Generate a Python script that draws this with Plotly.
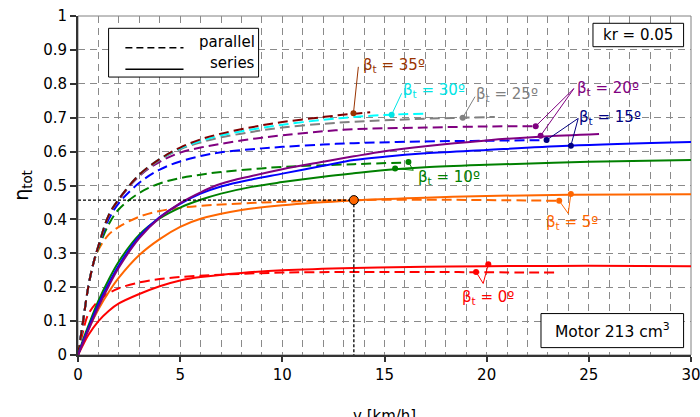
import plotly.graph_objects as go

# ---------------- data ----------------
# parallel (dashed) curves
v_par_0 = [0, 0.25, 0.5, 1, 1.5, 2, 3, 4, 5, 7, 10, 13.5, 17, 20, 23.3]
eta_par_0 = [0, 0.07, 0.12, 0.16, 0.182, 0.197, 0.214, 0.224, 0.23, 0.237, 0.243, 0.245, 0.245, 0.244, 0.243]

v_par_5 = [0, 0.25, 0.5, 0.75, 1, 1.5, 2, 3, 4, 5, 6, 8, 10, 13.5, 17, 20, 23.5]
eta_par_5 = [0, 0.1, 0.2, 0.27, 0.31, 0.355, 0.378, 0.408, 0.425, 0.434, 0.44, 0.447, 0.452, 0.457, 0.458, 0.457, 0.455]

v_par_10 = [0, 0.25, 0.5, 0.75, 1, 1.5, 2, 3, 4, 5, 6, 7, 8.5, 10, 13.5, 16.2]
eta_par_10 = [0, 0.1, 0.2, 0.27, 0.315, 0.385, 0.43, 0.478, 0.506, 0.522, 0.532, 0.54, 0.548, 0.555, 0.563, 0.568]

v_par_15 = [0, 0.25, 0.5, 0.75, 1, 1.5, 2, 3, 4, 5, 6, 7, 8.5, 10, 12, 13.5, 17, 20, 22.9]
eta_par_15 = [0, 0.1, 0.2, 0.27, 0.32, 0.4, 0.448, 0.508, 0.547, 0.571, 0.587, 0.598, 0.607, 0.614, 0.621, 0.625, 0.63, 0.632, 0.634]

v_par_20 = [0, 0.25, 0.5, 0.75, 1, 1.5, 2, 3, 4, 5, 6, 7, 8.5, 10, 12, 13.5, 17, 20, 22.4]
eta_par_20 = [0, 0.1, 0.2, 0.27, 0.322, 0.41, 0.458, 0.528, 0.57, 0.597, 0.612, 0.623, 0.637, 0.648, 0.66, 0.666, 0.671, 0.674, 0.675]

v_par_25 = [0, 0.25, 0.5, 0.75, 1, 1.5, 2, 3, 4, 5, 6, 7, 8.5, 10, 12, 13.5, 17, 18.8, 20.4]
eta_par_25 = [0, 0.1, 0.2, 0.27, 0.322, 0.412, 0.46, 0.53, 0.575, 0.607, 0.627, 0.642, 0.658, 0.671, 0.682, 0.688, 0.697, 0.7, 0.702]

v_par_30 = [0, 0.25, 0.5, 0.75, 1, 1.5, 2, 3, 4, 5, 6, 7, 8.5, 10, 12, 13.5, 15.35, 17]
eta_par_30 = [0, 0.1, 0.2, 0.27, 0.322, 0.412, 0.46, 0.532, 0.578, 0.61, 0.631, 0.648, 0.665, 0.679, 0.694, 0.702, 0.709, 0.712]

v_par_35 = [0, 0.25, 0.5, 0.75, 1, 1.5, 2, 3, 4, 5, 6, 7, 8.5, 10, 12, 13.5, 14.3]
eta_par_35 = [0, 0.1, 0.2, 0.27, 0.322, 0.412, 0.46, 0.532, 0.578, 0.612, 0.636, 0.653, 0.672, 0.687, 0.702, 0.712, 0.716]

# series (solid) curves
v_ser_0 = [0, 0.25, 0.5, 1, 1.5, 2, 3, 4, 5, 6, 8, 10, 13.5, 17, 20, 25, 30]
eta_ser_0 = [0, 0.03, 0.058, 0.1, 0.13, 0.152, 0.18, 0.203, 0.22, 0.23, 0.242, 0.25, 0.257, 0.26, 0.262, 0.263, 0.262]

v_ser_5 = [0, 0.25, 0.5, 1, 1.5, 2, 3, 4, 5, 6, 8, 10, 13.5, 17, 20, 24, 30]
eta_ser_5 = [0, 0.04, 0.075, 0.135, 0.185, 0.228, 0.295, 0.342, 0.378, 0.402, 0.428, 0.442, 0.456, 0.464, 0.469, 0.473, 0.474]

v_ser_10 = [0, 0.25, 0.5, 1, 1.5, 2, 3, 4, 5, 6, 7, 8.5, 10, 12, 13.5, 15.5, 17, 20, 25, 30]
eta_ser_10 = [0, 0.045, 0.085, 0.16, 0.222, 0.276, 0.355, 0.403, 0.435, 0.458, 0.476, 0.496, 0.51, 0.526, 0.536, 0.548, 0.554, 0.561, 0.57, 0.575]

v_ser_15 = [0, 0.25, 0.5, 1, 1.5, 2, 3, 4, 5, 6, 7, 8.5, 10, 12, 13.5, 15, 17, 20, 24, 30]
eta_ser_15 = [0, 0.04, 0.078, 0.15, 0.21, 0.265, 0.35, 0.407, 0.446, 0.476, 0.497, 0.518, 0.535, 0.558, 0.575, 0.585, 0.595, 0.605, 0.617, 0.628]

v_ser_20 = [0, 0.25, 0.5, 1, 1.5, 2, 3, 4, 5, 6, 7, 8.5, 10, 12, 13.5, 15, 17, 20, 22.6, 25.5]
eta_ser_20 = [0, 0.036, 0.072, 0.142, 0.203, 0.258, 0.345, 0.405, 0.448, 0.48, 0.505, 0.528, 0.548, 0.57, 0.586, 0.601, 0.616, 0.633, 0.644, 0.652]

# operating point marked with dotted guides
op_v = 13.5
op_eta = 0.457

# tick values
x_ticks = [0, 5, 10, 15, 20, 25, 30]
y_ticks = [0, 0.1, 0.2, 0.3, 0.4, 0.5, 0.6, 0.7, 0.8, 0.9, 1]

# ---------------- styling ----------------
FONT = "DejaVu Sans"
C = {0: "#FF0000", 5: "#FF6600", 10: "#008000", 15: "#0000FF",
     20: "#800080", 25: "#808080", 30: "#00FFFF", 35: "#800000"}
LABEL_C = {0: "#FF0000", 5: "#FF6600", 10: "#008000", 15: "#000080",
           20: "#800080", 25: "#808080", 30: "#00E5E5", 35: "#993300"}

parallel = [(0, v_par_0, eta_par_0), (5, v_par_5, eta_par_5), (10, v_par_10, eta_par_10),
            (15, v_par_15, eta_par_15), (20, v_par_20, eta_par_20), (25, v_par_25, eta_par_25),
            (30, v_par_30, eta_par_30), (35, v_par_35, eta_par_35)]
series = [(0, v_ser_0, eta_ser_0), (5, v_ser_5, eta_ser_5), (10, v_ser_10, eta_ser_10),
          (15, v_ser_15, eta_ser_15), (20, v_ser_20, eta_ser_20)]

fig = go.Figure()

for b, v, e in parallel:
    fig.add_trace(go.Scatter(x=v, y=e, mode="lines", line_shape="spline",
                             line=dict(color=C[b], width=2, dash="10px,5px"),
                             hoverinfo="skip"))
for b, v, e in series:
    fig.add_trace(go.Scatter(x=v, y=e, mode="lines", line_shape="spline",
                             line=dict(color=C[b], width=2), hoverinfo="skip"))

# dotted guides to the operating point
fig.add_trace(go.Scatter(x=[0, op_v, op_v], y=[op_eta, op_eta, 0], mode="lines",
                         line=dict(color="black", width=1.3, dash="3px,2px"), hoverinfo="skip"))
fig.add_trace(go.Scatter(x=[op_v], y=[op_eta], mode="markers",
                         marker=dict(color="#FF6600", size=9, line=dict(color="black", width=1)),
                         hoverinfo="skip"))

# ---------------- curve labels with leader lines ----------------
labels = [
    dict(b=0, pos=(20.06, 0.17), hub=(19.83, 0.211), dots=[(19.48, 0.245), (20.08, 0.268)]),
    dict(b=5, pos=(24.17, 0.392), hub=(23.99, 0.4175), dots=[(23.55, 0.455), (24.12, 0.475)]),
    dict(b=10, pos=(18.16, 0.525), hub=(16.41, 0.545), dots=[(16.17, 0.569), (15.52, 0.55)]),
    dict(b=15, pos=(26.03, 0.702), hub=(24.48, 0.698), dots=[(22.93, 0.634), (24.12, 0.617)]),
    dict(b=20, pos=(25.93, 0.787), hub=(24.27, 0.786), dots=[(22.4, 0.675), (22.64, 0.647)]),
    dict(b=25, pos=(21.0, 0.767), hub=(19.43, 0.762), dots=[(18.83, 0.70)]),
    dict(b=30, pos=(17.42, 0.781), hub=(15.84, 0.772), dots=[(15.35, 0.709)]),
    dict(b=35, pos=(15.47, 0.855), hub=(13.72, 0.85), dots=[(13.48, 0.713)]),
]
for lab in labels:
    col = LABEL_C[lab["b"]]
    hx, hy = lab["hub"]
    for dx, dy in lab["dots"]:
        fig.add_shape(type="line", x0=hx, y0=hy, x1=dx, y1=dy, xref="x", yref="y",
                      line=dict(color=col, width=1))
    fig.add_trace(go.Scatter(x=[d[0] for d in lab["dots"]], y=[d[1] for d in lab["dots"]],
                             mode="markers", marker=dict(color=col, size=6), hoverinfo="skip"))
    fig.add_annotation(x=lab["pos"][0], y=lab["pos"][1], xref="x", yref="y",
                       text=f"β<sub>t</sub> = {lab['b']}º", showarrow=False,
                       font=dict(family=FONT, size=15, color=col))

# ---------------- frame, legend box, info boxes ----------------
fig.add_shape(type="rect", xref="paper", yref="paper", x0=0, y0=0, x1=1, y1=1,
              line=dict(color="#808080", width=1), layer="below")

# legend
fig.add_shape(type="rect", xref="paper", yref="paper", x0=0.0499, y0=0.8199, x1=0.2946, y1=0.9637,
              line=dict(color="black", width=1), fillcolor="white")
fig.add_shape(type="line", xref="paper", yref="paper", x0=0.0773, y0=0.9064, x1=0.1721, y1=0.9064,
              line=dict(color="black", width=1.5, dash="7px,4px"))
fig.add_shape(type="line", xref="paper", yref="paper", x0=0.0773, y0=0.8426, x1=0.1721, y1=0.8426,
              line=dict(color="black", width=1.5))
fig.add_annotation(xref="paper", yref="paper", x=0.2913, y=0.923, xanchor="right", yanchor="middle",
                   text="parallel", showarrow=False, font=dict(family=FONT, size=15, color="black"))
fig.add_annotation(xref="paper", yref="paper", x=0.2913, y=0.861, xanchor="right", yanchor="middle",
                   text="series", showarrow=False, font=dict(family=FONT, size=15, color="black"))

# kr box
fig.add_shape(type="rect", xref="paper", yref="paper", x0=0.8401, y0=0.9094, x1=0.9879, y1=0.9785,
              line=dict(color="black", width=1), fillcolor="white")
fig.add_annotation(xref="paper", yref="paper", x=0.914, y=0.944, xanchor="center", yanchor="middle",
                   text="kr = 0.05", showarrow=False, font=dict(family=FONT, size=15, color="black"))
# motor box
fig.add_shape(type="rect", xref="paper", yref="paper", x0=0.7553, y0=0.0218, x1=0.9879, y1=0.1222,
              line=dict(color="black", width=1), fillcolor="white")
fig.add_annotation(xref="paper", yref="paper", x=0.8716, y=0.072, xanchor="center", yanchor="middle",
                   text="Motor 213 cm<sup>3</sup>", showarrow=False,
                   font=dict(family=FONT, size=15.5, color="black"))

# axis titles
fig.add_annotation(xref="paper", yref="paper", x=-0.0909, y=0.5, xanchor="center", yanchor="middle",
                   text="η<sub>tot</sub>", textangle=-90, showarrow=False,
                   font=dict(family=FONT, size=19, color="black"))
fig.add_annotation(xref="paper", yref="paper", x=0.5, y=-0.148, xanchor="center", yanchor="top",
                   text="v [km/h]", showarrow=False, font=dict(family=FONT, size=15, color="black"))

grid_kw = dict(gridcolor="#8a8a8a", griddash="7px,5px", gridwidth=1)
fig.update_xaxes(range=[0, 30], tickvals=x_ticks, ticks="outside", ticklen=5, tickwidth=1.5,
                 tickcolor="#333", showline=True, linecolor="#333", linewidth=2,
                 showgrid=True, zeroline=False, automargin=False, ticklabeloverflow="allow",
                 minor=dict(dtick=1, showgrid=True, ticks="", **grid_kw),
                 tickfont=dict(family=FONT, size=15, color="black"), **grid_kw)
fig.update_yaxes(range=[0, 1], tickvals=y_ticks, ticktext=[f"{t:g}" for t in y_ticks],
                 ticks="outside", ticklen=6, tickwidth=1.5,
                 tickcolor="#333", showline=True, linecolor="#333", linewidth=2,
                 showgrid=True, zeroline=False, automargin=False, ticklabeloverflow="allow",
                 tickfont=dict(family=FONT, size=15, color="black"), **grid_kw)

fig.update_layout(width=700, height=417, autosize=False,
                  margin=dict(l=78, r=9, t=16, b=62, pad=0),
                  plot_bgcolor="white", paper_bgcolor="white", showlegend=False,
                  font=dict(family=FONT, size=15, color="black"))

fig.write_html("out.html", config={"displayModeBar": False},
               post_script="document.body.style.margin='0';document.body.style.overflow='hidden';")
